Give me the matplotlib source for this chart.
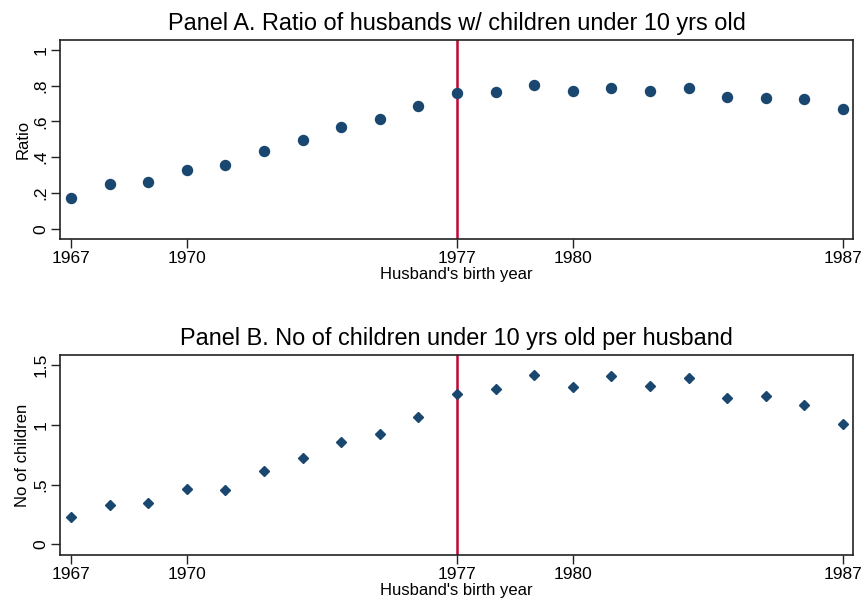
import matplotlib
matplotlib.use("Agg")
import matplotlib.pyplot as plt
from matplotlib.ticker import FixedLocator, FixedFormatter

years = list(range(1967, 1988))
ratio = [0.171, 0.251, 0.264, 0.331, 0.355, 0.435, 0.495, 0.569, 0.612, 0.688,
         0.758, 0.762, 0.803, 0.768, 0.788, 0.770, 0.785, 0.738, 0.732, 0.723, 0.667]
nchild = [0.226, 0.327, 0.344, 0.461, 0.458, 0.609, 0.721, 0.855, 0.922, 1.067,
          1.257, 1.299, 1.416, 1.316, 1.408, 1.324, 1.394, 1.221, 1.240, 1.165, 1.003]
xticks = [1967, 1970, 1977, 1980, 1987]
yticksA = [0, 0.2, 0.4, 0.6, 0.8, 1.0]
ylabelsA = ["0", ".2", ".4", ".6", ".8", "1"]
yticksB = [0, 0.5, 1.0, 1.5]
ylabelsB = ["0", ".5", "1", "1.5"]
cutoff = 1977

plt.rcParams['font.family'] = ['Liberation Sans', 'DejaVu Sans']
W, H = 863, 603
fig = plt.figure(figsize=(W / 100, H / 100), dpi=100)

navy = '#1a476f'
red = '#c10534'

def make_axes(top, bottom):
    return fig.add_axes([60 / W, (H - bottom) / H, (853 - 60) / W, (bottom - top) / H])

def style(ax, yt, yl, ylim, ylabel, title):
    ax.set_xlim(1966.715, 1987.26)
    ax.set_ylim(*ylim)
    ax.xaxis.set_major_locator(FixedLocator(xticks))
    ax.set_xticklabels([str(t) for t in xticks])
    ax.yaxis.set_major_locator(FixedLocator(yt))
    ax.yaxis.set_major_formatter(FixedFormatter(yl))
    for lab in ax.get_yticklabels():
        lab.set_rotation(90)
        lab.set_va('center')
    ax.tick_params(axis='both', direction='out', length=6.5, width=1, labelsize=12.5,
                   colors='#222222', labelcolor='black', pad=2)
    ax.tick_params(axis='y', pad=2)
    for s in ax.spines.values():
        s.set_linewidth(1.2)
        s.set_color('#222222')
    ax.set_ylabel(ylabel, fontsize=12, labelpad=2)
    ax.set_xlabel("Husband's birth year", fontsize=12, labelpad=1)
    ax.set_title(title, fontsize=16.9, pad=7)
    ax.axvline(cutoff, color=red, linewidth=1.8, zorder=1)

axA = make_axes(40, 239)
axA.plot(years, ratio, linestyle='none', marker='o', markersize=7.2, color=navy, zorder=3)
style(axA, yticksA, ylabelsA, (-0.056, 1.054), 'Ratio',
      'Panel A. Ratio of husbands w/ children under 10 yrs old')

axB = make_axes(355, 555)
axB.plot(years, nchild, linestyle='none', marker='D', markersize=5.2, color=navy, zorder=3)
style(axB, yticksB, ylabelsB, (-0.09, 1.584), 'No of children',
      'Panel B. No of children under 10 yrs old per husband')

fig.savefig('out.png', dpi=100)
